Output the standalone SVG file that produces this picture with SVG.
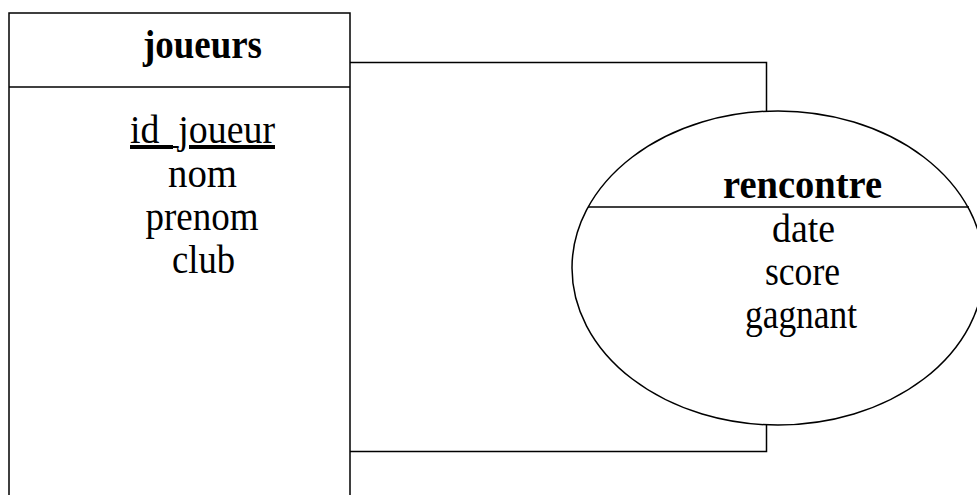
<svg xmlns="http://www.w3.org/2000/svg" width="977" height="495" viewBox="0 0 977 495">
<style>
.shape{fill:#fff;stroke:#000;stroke-width:1.5}
.line{fill:none;stroke:#000;stroke-width:1.5}
text{font-family:"Liberation Serif","Times New Roman",serif;font-size:40px;fill:#000;text-anchor:middle}
.title{font-weight:bold}
</style>
<rect width="977" height="495" fill="#fff"/>
<g id="connectors">
<polyline class="line" points="350,62.5 766.5,62.5 766.5,111"/>
<polyline class="line" points="350,451.5 766.5,451.5 766.5,425"/>
</g>
<g id="joueurs">
<rect class="shape" x="9" y="13" width="341" height="500"/>
<line class="line" x1="9" y1="87" x2="350" y2="87"/>
<text class="title" x="202.5" y="58" textLength="119" lengthAdjust="spacingAndGlyphs">joueurs</text>
<text x="202.5" y="143" textLength="145" lengthAdjust="spacingAndGlyphs" text-decoration="underline">id_joueur</text>
<text x="202.5" y="187" textLength="69" lengthAdjust="spacingAndGlyphs">nom</text>
<text x="202" y="230" textLength="113" lengthAdjust="spacingAndGlyphs">prenom</text>
<text x="203.5" y="273" textLength="63" lengthAdjust="spacingAndGlyphs">club</text>
</g>
<g id="rencontre">
<ellipse class="shape" cx="778" cy="268" rx="206" ry="157"/>
<line class="line" x1="588" y1="207" x2="969" y2="207"/>
<text class="title" x="802.5" y="198" textLength="159" lengthAdjust="spacingAndGlyphs">rencontre</text>
<text x="803.5" y="242" textLength="63" lengthAdjust="spacingAndGlyphs">date</text>
<text x="802.5" y="285" textLength="75" lengthAdjust="spacingAndGlyphs">score</text>
<text x="801" y="328" textLength="112" lengthAdjust="spacingAndGlyphs">gagnant</text>
</g>
</svg>
